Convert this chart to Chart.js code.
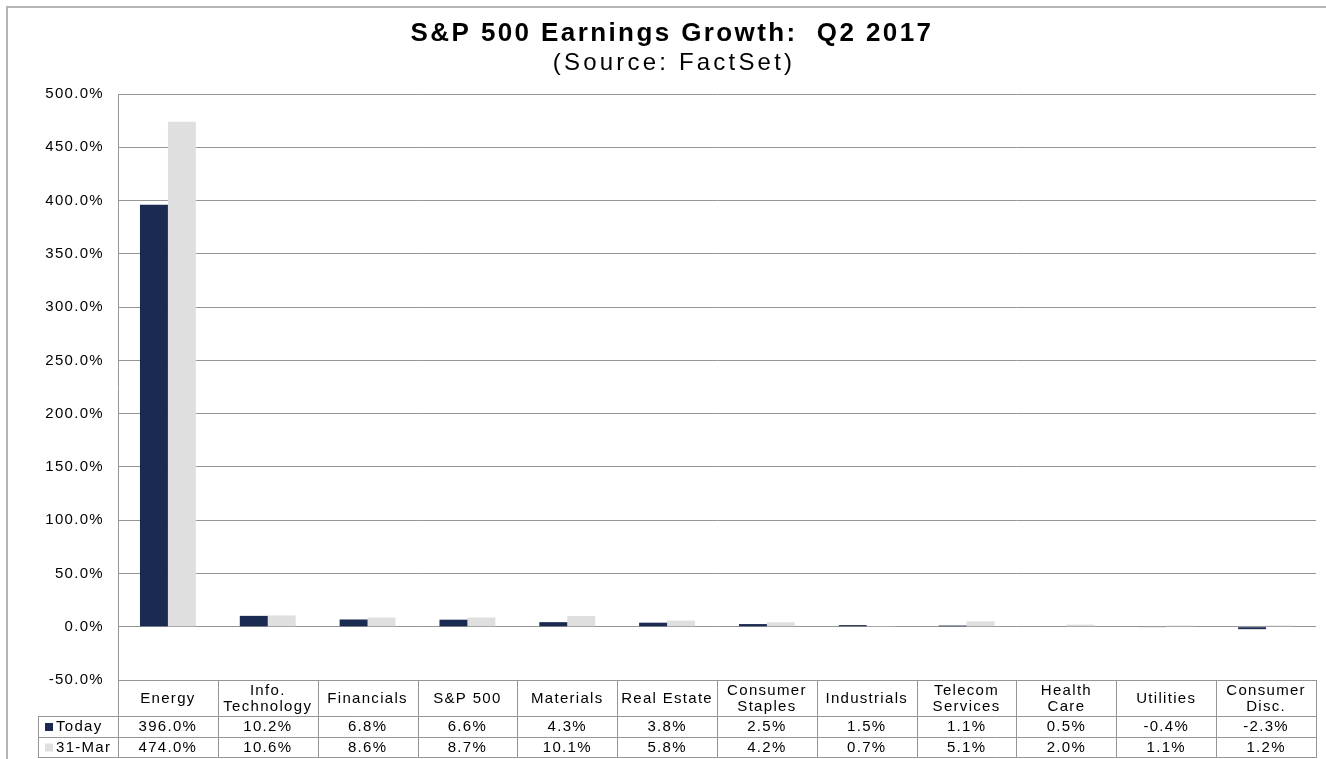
<!DOCTYPE html>
<html>
<head>
<meta charset="utf-8">
<script src="https://cdn.jsdelivr.net/npm/chart.js@4.4.1/dist/chart.umd.min.js"></script>
<style>
    html, body { margin: 0; padding: 0; background: #fff; }
    #wrap { width: 1326px; height: 759px; position: relative; }
</style>
</head>
<body>
<div id="wrap"><canvas id="earnings-chart"></canvas></div>
<script>
// --- Dados ---
const categories = [
    ['Energy'], ['Info.', 'Technology'], ['Financials'], ['S&P 500'], ['Materials'],
    ['Real Estate'], ['Consumer', 'Staples'], ['Industrials'], ['Telecom', 'Services'],
    ['Health', 'Care'], ['Utilities'], ['Consumer', 'Disc.']
];
const todayValues = [396.0, 10.2, 6.8, 6.6, 4.3, 3.8, 2.5, 1.5, 1.1, 0.5, -0.4, -2.3];
const marchValues = [474.0, 10.6, 8.6, 8.7, 10.1, 5.8, 4.2, 0.7, 5.1, 2.0, 1.1, 1.2];
const seriesNames = ['Today', '31-Mar'];
const titleText = 'S&P 500 Earnings Growth:  Q2 2017';
const subtitleText = '(Source: FactSet)';

const FONT = '"Liberation Sans", Arial, sans-serif';
const NAVY = '#1b2a50';
const LIGHT = '#dfdfdf';
const LINE = '#969696';

const fmt = v => v.toFixed(1) + '%';

// Espaçamento de letras para imitar o texto "esticado" do Excel
const spacingPlugin = {
    id: 'spacing',
    beforeDraw(chart) {
        chart.ctx.letterSpacing = '1.3px';
    }
};

// Título, moldura e tabela de dados abaixo do gráfico
const tablePlugin = {
    id: 'dataTable',
    afterDraw(chart) {
        const ctx = chart.ctx;
        const xScale = chart.scales.x;
        const area = chart.chartArea;
        const half = (area.right - area.left) / categories.length / 2;

        const yTop = area.bottom;
        const yHead = 716;
        const yRow1 = 737;
        const yBottom = 757;
        const labelLeft = 38;

        ctx.save();

        // moldura externa
        ctx.strokeStyle = '#b4b4b4';
        ctx.lineWidth = 2;
        ctx.beginPath();
        ctx.moveTo(7, 759);
        ctx.lineTo(7, 7);
        ctx.lineTo(1326, 7);
        ctx.stroke();

        // títulos
        ctx.fillStyle = '#000';
        ctx.textAlign = 'center';
        ctx.textBaseline = 'middle';
        ctx.letterSpacing = '2.4px';
        ctx.font = 'bold 26px ' + FONT;
        ctx.fillText(titleText, 672, 34);
        ctx.letterSpacing = '3.2px';
        ctx.font = '24px ' + FONT;
        ctx.fillText(subtitleText, 674, 63);

        // linhas da tabela
        ctx.strokeStyle = LINE;
        ctx.lineWidth = 1;
        ctx.beginPath();
        [yHead, yRow1, yBottom].forEach(y => {
            ctx.moveTo(labelLeft, y + 0.5);
            ctx.lineTo(area.right, y + 0.5);
        });
        ctx.moveTo(labelLeft + 0.5, yHead);
        ctx.lineTo(labelLeft + 0.5, yBottom + 1);
        for (let i = 0; i <= categories.length; i++) {
            const x = Math.round(xScale.getPixelForValue(i) - half) + 0.5;
            ctx.moveTo(x, yTop);
            ctx.lineTo(x, yBottom + 1);
        }
        ctx.stroke();

        // texto da tabela
        ctx.letterSpacing = '1.3px';
        ctx.font = '15px ' + FONT;
        ctx.fillStyle = '#000';
        ctx.textAlign = 'center';
        categories.forEach((lines, i) => {
            const cx = xScale.getPixelForValue(i);
            if (lines.length === 1) {
                ctx.fillText(lines[0], cx, 699);
            } else {
                ctx.fillText(lines[0], cx, 691);
                ctx.fillText(lines[1], cx, 707);
            }
            ctx.fillText(fmt(todayValues[i]), cx, 727);
            ctx.fillText(fmt(marchValues[i]), cx, 747.5);
        });

        // legenda embutida
        ctx.textAlign = 'left';
        [[NAVY, 727], [LIGHT, 747.5]].forEach(([color, y], k) => {
            ctx.fillStyle = color;
            ctx.fillRect(45, y - 4, 8, 8);
            ctx.fillStyle = '#000';
            ctx.fillText(seriesNames[k], 56, y);
        });

        ctx.restore();
    }
};

const earningsChart = new Chart(document.getElementById('earnings-chart'), {
    type: 'bar',
    data: {
        labels: categories.map(c => c.join(' ')),
        datasets: [
            {
                label: seriesNames[0],
                data: todayValues,
                backgroundColor: NAVY,
                categoryPercentage: 0.56,
                barPercentage: 1.0
            },
            {
                label: seriesNames[1],
                data: marchValues,
                backgroundColor: LIGHT,
                categoryPercentage: 0.56,
                barPercentage: 1.0
            }
        ]
    },
    options: {
        responsive: true,
        maintainAspectRatio: false,
        animation: false,
        layout: {
            padding: { left: 8, top: 94, right: 10, bottom: 79 }
        },
        plugins: {
            legend: { display: false },
            tooltip: { enabled: false }
        },
        scales: {
            x: {
                display: false
            },
            y: {
                min: -50,
                max: 500,
                afterFit(scale) {
                    scale.width = 110;
                },
                ticks: {
                    stepSize: 50,
                    callback: v => fmt(v),
                    color: '#000',
                    padding: 14,
                    font: { family: FONT, size: 15 }
                },
                grid: {
                    color: LINE,
                    drawTicks: false
                },
                border: {
                    color: LINE
                }
            }
        }
    },
    plugins: [spacingPlugin, tablePlugin]
});
</script>
</body>
</html>
